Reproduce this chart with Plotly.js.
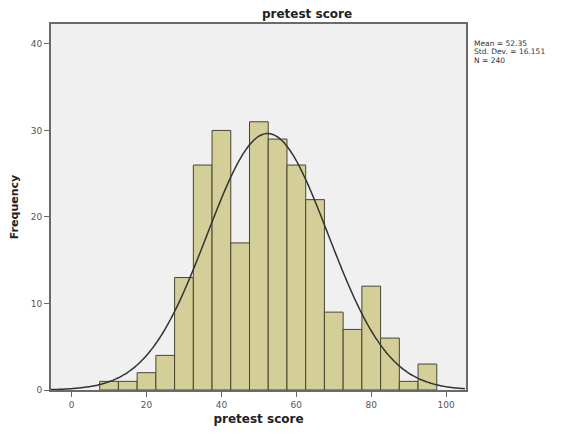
<!DOCTYPE html>
<html>
<head>
<meta charset="utf-8">
<script src="https://cdn.plot.ly/plotly-3.0.1.min.js"></script>
<style>html,body{margin:0;padding:0;background:#fff;}#chart{width:574px;height:435px;}</style>
</head>
<body>
<div id="chart"></div>
<script>
// Histogram bins (bin centers, width 5)
const binCenters = [10, 15, 20, 25, 30, 35, 40, 45, 50, 55, 60, 65, 70, 75, 80, 85, 90, 95];
const frequencies = [1, 1, 2, 4, 13, 26, 30, 17, 31, 29, 26, 22, 9, 7, 12, 6, 1, 3];
const binWidth = 5;
// Summary statistics shown in the legend
const statMean = 52.35;
const statSD = 16.151;
const statN = 240;
const xTicks = [0, 20, 40, 60, 80, 100];
const yTicks = [0, 10, 20, 30, 40];
const statLines = ['Mean = ' + statMean.toFixed(2), 'Std. Dev. = ' + statSD.toFixed(3), 'N = ' + statN];

// Fitted normal curve (scaled to counts), as drawn by the stats package
const curveX = [];
const curveY = [];
for (let x = -5.5; x <= 105.3; x += 0.5) {
  curveX.push(x);
  const z = (x - statMean) / statSD;
  curveY.push(statN * binWidth * Math.exp(-0.5 * z * z) / (statSD * Math.sqrt(2 * Math.PI)));
}

const traces = [
  {
    type: 'bar', x: binCenters, y: frequencies, width: binWidth,
    marker: {color: '#d4cf98', line: {color: '#47452f', width: 1}},
    hoverinfo: 'skip', showlegend: false
  },
  {
    type: 'scatter', mode: 'lines', x: curveX, y: curveY,
    line: {color: '#333333', width: 1.5, shape: 'spline'},
    hoverinfo: 'skip', showlegend: false
  }
];

const tickFont = {family: 'DejaVu Sans, sans-serif', size: 9, color: '#555555'};
const plotH = 435 - 24 - 45;
const layout = {
  width: 574, height: 435,
  margin: {l: 51, r: 108, t: 24, b: 45},
  paper_bgcolor: '#ffffff',
  plot_bgcolor: '#f0f0f0',
  bargap: 0,
  showlegend: false,
  title: {
    text: '<b>pretest score</b>',
    font: {family: 'DejaVu Sans, sans-serif', size: 12, color: '#222222'},
    x: 307 / 574, xanchor: 'center', y: 1 - 14 / 435, yanchor: 'middle'
  },
  xaxis: {
    range: [-5.5, 105.3], tickvals: xTicks, ticktext: xTicks.map(String),
    ticks: 'outside', ticklen: 5, tickcolor: '#666666', tickwidth: 1,
    showgrid: false, zeroline: false,
    showline: true, linecolor: '#6a6a6a', linewidth: 2, mirror: true,
    tickfont: tickFont,
    title: {text: '<b>pretest score</b>', font: {family: 'DejaVu Sans, sans-serif', size: 12, color: '#222222'}, standoff: 6}
  },
  yaxis: {
    range: [0, 42.3], tickvals: yTicks, ticktext: yTicks.map(String),
    ticks: 'outside', ticklen: 5, tickcolor: '#666666', tickwidth: 1,
    showgrid: false, zeroline: false,
    showline: true, linecolor: '#6a6a6a', linewidth: 2, mirror: true,
    tickfont: tickFont,
    title: {text: '<b>Frequency</b>', font: {family: 'DejaVu Sans, sans-serif', size: 11, color: '#222222'}, standoff: 10}
  },
  annotations: statLines.map((t, i) => ({
    xref: 'paper', yref: 'paper', x: 1.014, y: 1 - (20 + 8 * i) / plotH,
    xanchor: 'left', yanchor: 'middle', align: 'left', showarrow: false,
    text: t,
    font: {family: 'DejaVu Sans, sans-serif', size: 7.5, color: '#333333'}
  }))
};

Plotly.newPlot('chart', traces, layout, {displayModeBar: false, staticPlot: true});
</script>
</body>
</html>
